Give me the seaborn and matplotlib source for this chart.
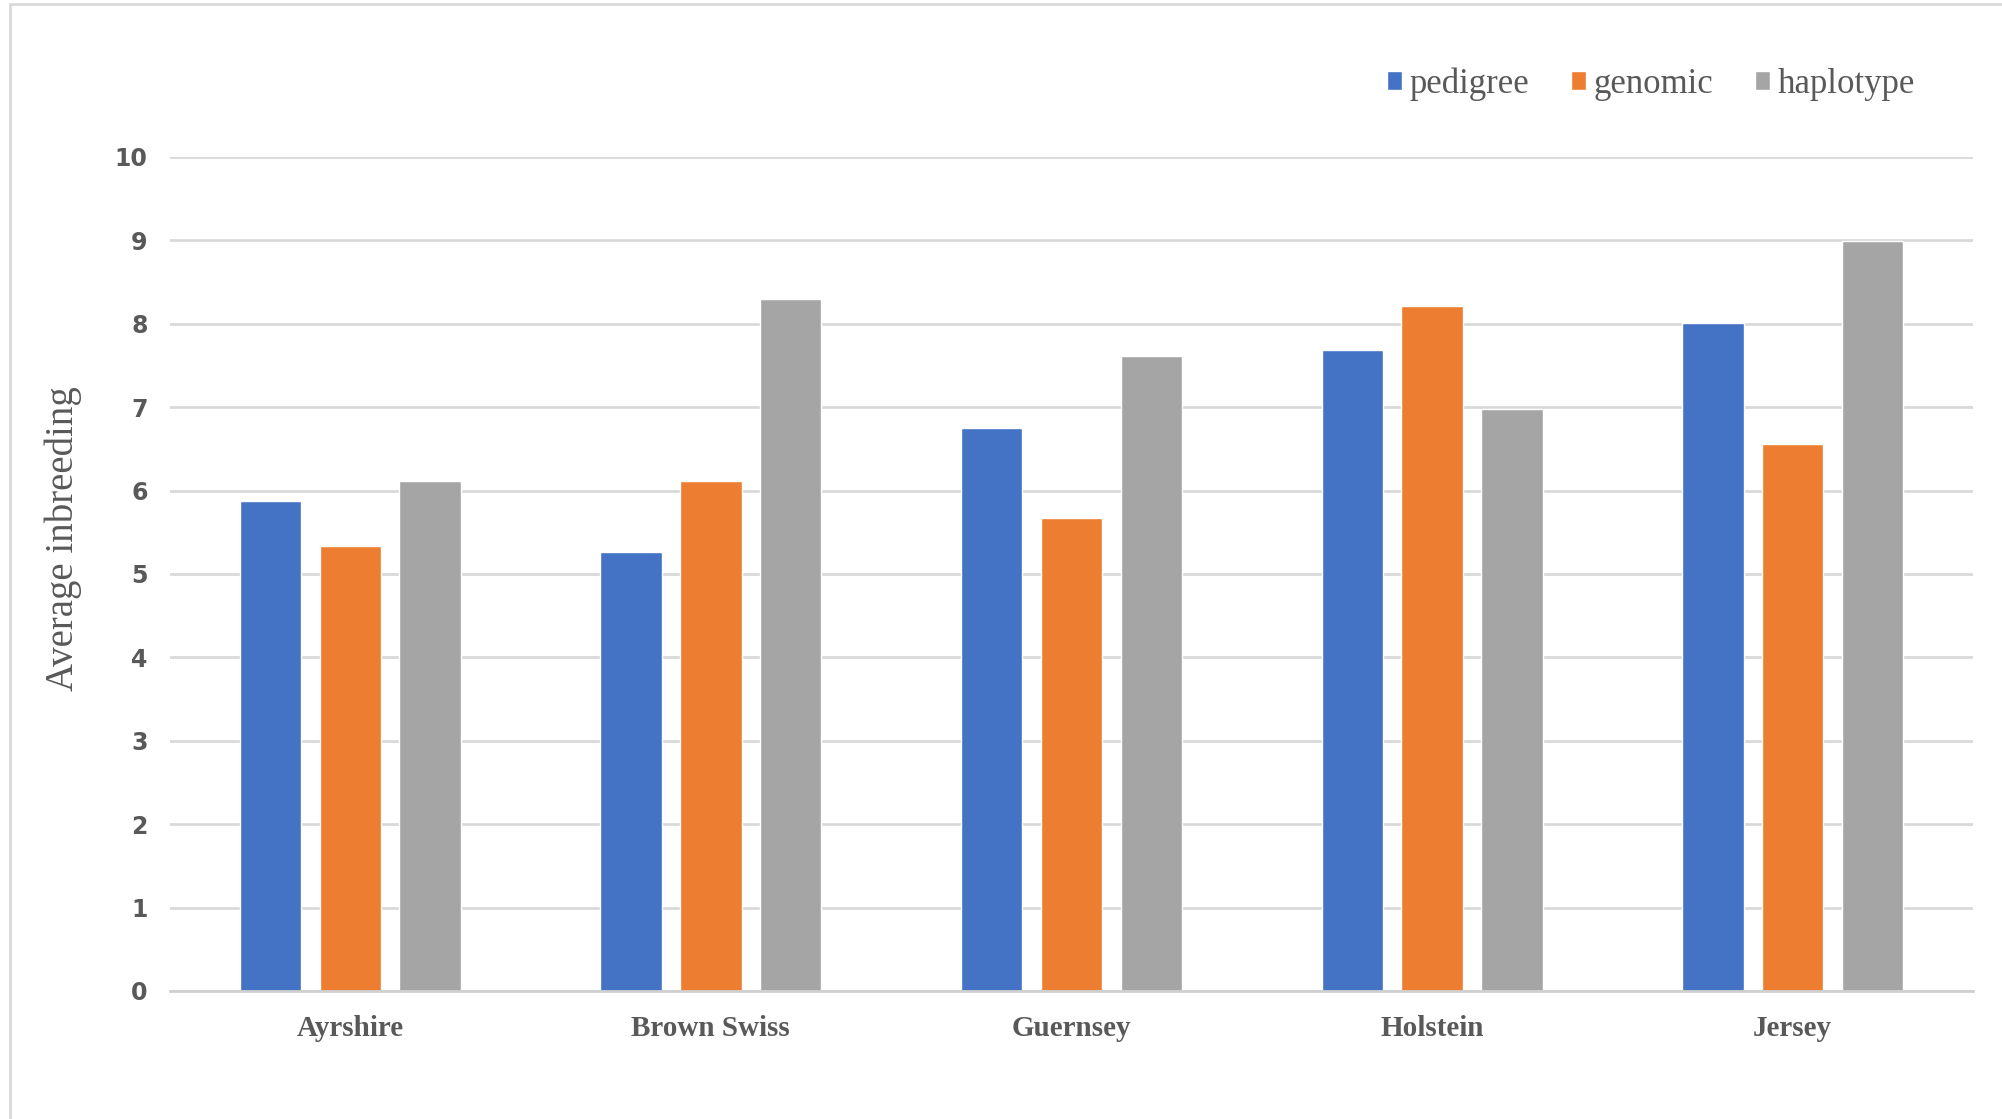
import seaborn as sns
import matplotlib.pyplot as plt
import pandas as pd
from matplotlib.patches import Rectangle

# values
breeds = ["Ayrshire", "Brown Swiss", "Guernsey", "Holstein", "Jersey"]
methods = ["pedigree", "genomic", "haplotype"]
pedigree = [5.88, 5.26, 6.75, 7.68, 8.01]
genomic = [5.34, 6.11, 5.67, 8.21, 6.56]
haplotype = [6.11, 8.30, 7.61, 6.98, 8.99]
yticks = list(range(0, 11))

colors = ["#4472C4", "#ED7D31", "#A5A5A5"]
text_grey = "#595959"

df = pd.DataFrame({
    "breed": breeds * 3,
    "method": [m for m in methods for _ in breeds],
    "value": pedigree + genomic + haplotype,
})

sns.set_style("white")
fig = plt.figure(figsize=(20.02, 11.19), dpi=100)
ax = fig.add_axes([0.0849, 0.1144, 0.9006, 0.7453])

sns.barplot(
    data=df, x="breed", y="value", hue="method", hue_order=methods,
    order=breeds, palette=colors, width=0.664, gap=0.23,
    saturation=1, errorbar=None, ax=ax,
)

ax.set_ylim(0, 10)
ax.set_xlim(-0.5, 4.5)
ax.set_yticks(yticks)
ax.set_yticklabels([str(t) for t in yticks], fontsize=17, fontweight="bold",
                   color=text_grey, family="DejaVu Sans")
ax.set_xticks(range(len(breeds)))
ax.set_xticklabels(breeds, fontsize=21, fontweight="bold", color=text_grey,
                   family="Liberation Serif")
ax.tick_params(axis="y", length=0, pad=16)
ax.tick_params(axis="x", length=0, pad=17)
ax.set_xlabel("")
ax.set_ylabel("Average inbreeding", fontsize=28, color=text_grey,
              family="Liberation Serif")
ax.yaxis.set_label_coords(-0.049, 0.542)

ax.grid(axis="y", color="#D9D9D9", linewidth=2)
ax.set_axisbelow(True)
for side in ["top", "right", "left"]:
    ax.spines[side].set_visible(False)
ax.spines["bottom"].set_color("#D0D0D0")
ax.spines["bottom"].set_linewidth(2)

leg = ax.legend(
    loc="lower right", bbox_to_anchor=(0.985, 1.03), ncol=3, frameon=False,
    prop={"family": "Liberation Serif", "size": 25}, handlelength=0.45,
    handleheight=0.45, handletextpad=0.2, columnspacing=1.2,
)
for t in leg.get_texts():
    t.set_color(text_grey)

# light frame around the chart
fig.patches.append(Rectangle((0.005, -0.05), 1.2, 1.046, transform=fig.transFigure,
                             fill=False, edgecolor="#D9D9D9", linewidth=2))

fig.savefig("out.png", dpi=100)
